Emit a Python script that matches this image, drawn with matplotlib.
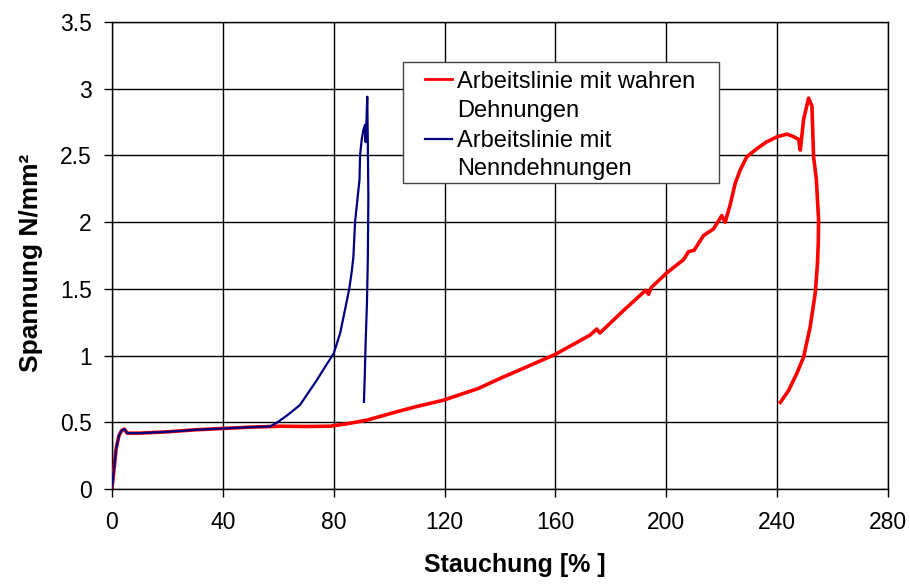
import matplotlib
matplotlib.use("Agg")
import matplotlib.pyplot as plt
from matplotlib.lines import Line2D
from matplotlib.patches import Rectangle

plt.rcParams['font.family'] = ['Liberation Sans', 'DejaVu Sans']

# Stress-strain curve with true strains (red)
true_strain = [0, 0.5, 1.5, 2.5, 3.5, 4.5, 5.5, 10, 20, 30, 40, 50, 58, 60.6, 70, 78.7,
               84.7, 91.9, 102.7, 110, 119.6, 132.2, 140, 150, 159.9, 166, 172.5, 174.9,
               176, 184.6, 192.5, 193.6, 194.5, 200.1, 206.2, 208, 210, 213.4, 217, 220,
               221.2, 223, 224.8, 226.6, 229, 232.6, 236, 239.9, 243.5, 246, 247.7, 248.3,
               249.5, 251.3, 252.5, 253.1, 254.1, 254.9, 254.8, 254.5, 253.7, 251.9,
               249.5, 247.1, 244.1, 241.1]
true_stress = [0, 0.1, 0.3, 0.4, 0.44, 0.45, 0.42, 0.42, 0.43, 0.445, 0.455, 0.465, 0.47,
               0.472, 0.47, 0.472, 0.49, 0.517, 0.58, 0.62, 0.667, 0.755, 0.83, 0.92,
               1.01, 1.08, 1.155, 1.2, 1.17, 1.34, 1.49, 1.46, 1.51, 1.62, 1.72, 1.78,
               1.79, 1.9, 1.95, 2.05, 2.0, 2.13, 2.29, 2.39, 2.49, 2.55, 2.6, 2.64, 2.66,
               2.64, 2.62, 2.54, 2.77, 2.93, 2.87, 2.49, 2.32, 2.02, 1.85, 1.69, 1.47,
               1.22, 0.99, 0.87, 0.74, 0.65]

# Stress-strain curve with nominal strains (blue)
nominal_strain = [0, 0.5, 1.5, 2.5, 3.5, 4.5, 5.5, 10, 20, 30, 40, 50, 57, 59.4, 63,
                  67.8, 73.9, 77, 80, 82.3, 83.8, 85.6, 86.5, 87.1, 87.7, 88.3, 89.3,
                  89.5, 90.1, 90.7, 91.3, 91.5, 91.8, 92.1, 92.3, 92.5, 92.3, 92.0, 91.5,
                  91.2, 90.9]
nominal_stress = [0, 0.1, 0.3, 0.4, 0.44, 0.45, 0.42, 0.42, 0.43, 0.445, 0.455, 0.465,
                  0.47, 0.497, 0.55, 0.63, 0.817, 0.92, 1.017, 1.167, 1.317, 1.5, 1.63,
                  1.74, 2.0, 2.12, 2.32, 2.5, 2.62, 2.69, 2.73, 2.6, 2.75, 2.94, 2.6,
                  2.19, 1.72, 1.4, 1.09, 0.85, 0.654]

x_ticks = [0, 40, 80, 120, 160, 200, 240, 280]
y_ticks = [0, 0.5, 1, 1.5, 2, 2.5, 3, 3.5]
y_tick_labels = ['0', '0.5', '1', '1.5', '2', '2.5', '3', '3.5']

series_labels = [['Arbeitslinie mit wahren', 'Dehnungen'],
                 ['Arbeitslinie mit', 'Nenndehnungen']]
series_colors = ['#ff0000', '#000080']

fig = plt.figure(figsize=(9.1, 5.88), dpi=100)
ax = fig.add_axes([0.123, 0.168, 0.853, 0.7946])

ax.plot(true_strain, true_stress, color=series_colors[0], lw=2.6, zorder=3)
ax.plot(nominal_strain, nominal_stress, color=series_colors[1], lw=1.6, zorder=4)

ax.set_xlim(0, 280)
ax.set_ylim(0, 3.5)
ax.set_xticks(x_ticks)
ax.set_yticks(y_ticks)
ax.set_yticklabels(y_tick_labels)
ax.grid(True, color='black', lw=1.0)
ax.set_axisbelow(True)
for s in ax.spines.values():
    s.set_color('black')
    s.set_linewidth(1.0)
ax.tick_params(direction='out', length=6, width=1, labelsize=16.5, colors='black')
ax.tick_params(axis='x', pad=10)
ax.tick_params(axis='y', pad=8.5)

ax.set_xlabel('Stauchung [% ]', fontsize=18, fontweight='bold')
ax.xaxis.set_label_coords(0.519, -0.137)
ax.set_ylabel('Spannung N/mm²', fontsize=19, fontweight='bold')
ax.yaxis.set_label_coords(-0.089, 0.484)

# Legend box drawn in axes coordinates
frame = Rectangle((0.375, 0.655), 0.407, 0.259, transform=ax.transAxes,
                  facecolor='white', edgecolor='#444444', lw=1.0, zorder=10)
ax.add_patch(frame)
handle_y = [0.878, 0.749]
text_baselines = [[0.8587, 0.797], [0.733, 0.672]]
for color, hy, lines, bases in zip(series_colors, handle_y, series_labels, text_baselines):
    ax.add_line(Line2D([0.403, 0.438], [hy, hy], transform=ax.transAxes,
                       color=color, lw=2.0 if color == '#ff0000' else 1.6, zorder=11))
    for line, b in zip(lines, bases):
        ax.text(0.4446, b, line, transform=ax.transAxes, fontsize=17,
                va='baseline', ha='left', color='black', zorder=11)

fig.savefig('out.png', dpi=100)
